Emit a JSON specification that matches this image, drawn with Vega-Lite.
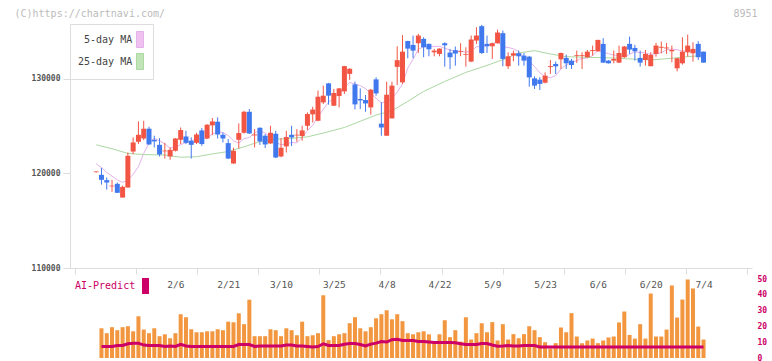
{
"$schema": "https://vega.github.io/schema/vega-lite/v6.json",
"padding": {"left": 14, "top": 8, "right": 0, "bottom": 0},
"background": "white",
"config": {"view": {"stroke": null}, "font": "DejaVu Sans Mono", "axis": {"grid": false}},
"bounds": "flush",
"spacing": 11,
"resolve": {"scale": {"color": "independent"}},
"datasets": {
"candles": [
{"i":0,"o":120120,"h":120200,"l":120080,"c":120200},
{"i":1,"o":119840,"h":120580,"l":118810,"c":119310},
{"i":2,"o":119280,"h":119550,"l":118280,"c":119030},
{"i":3,"o":118620,"h":119310,"l":118040,"c":118700},
{"i":4,"o":118890,"h":119030,"l":117940,"c":117940},
{"i":5,"o":117440,"h":118700,"l":117440,"c":118570},
{"i":6,"o":118500,"h":122200,"l":118500,"c":121850},
{"i":7,"o":122300,"h":123790,"l":122030,"c":123260},
{"i":8,"o":123330,"h":125480,"l":123090,"c":124070},
{"i":9,"o":123680,"h":125550,"l":123510,"c":124710},
{"i":10,"o":124710,"h":124920,"l":123000,"c":123050},
{"i":11,"o":123540,"h":123970,"l":122730,"c":123370},
{"i":12,"o":123010,"h":123720,"l":121780,"c":121990},
{"i":13,"o":122320,"h":123220,"l":121560,"c":122400},
{"i":14,"o":121780,"h":122730,"l":121430,"c":122480},
{"i":15,"o":122380,"h":123720,"l":122300,"c":123680},
{"i":16,"o":123540,"h":124840,"l":123090,"c":124570},
{"i":17,"o":123890,"h":124490,"l":123090,"c":123220},
{"i":18,"o":123440,"h":123790,"l":121560,"c":123010},
{"i":19,"o":123220,"h":124280,"l":123090,"c":124100},
{"i":20,"o":124530,"h":124780,"l":122900,"c":123090},
{"i":21,"o":123680,"h":125200,"l":123600,"c":125130},
{"i":22,"o":125060,"h":125840,"l":124040,"c":125480},
{"i":23,"o":125450,"h":125900,"l":123680,"c":124100},
{"i":24,"o":124070,"h":124310,"l":123260,"c":123680},
{"i":25,"o":123190,"h":123620,"l":121500,"c":121560},
{"i":26,"o":121040,"h":122700,"l":121000,"c":122380},
{"i":27,"o":123540,"h":125270,"l":122620,"c":124250},
{"i":28,"o":124280,"h":126600,"l":124200,"c":126500},
{"i":29,"o":126500,"h":126790,"l":124150,"c":124210},
{"i":30,"o":124000,"h":124670,"l":122730,"c":124100},
{"i":31,"o":124810,"h":124850,"l":123000,"c":123370},
{"i":32,"o":123970,"h":124150,"l":122670,"c":123050},
{"i":33,"o":123160,"h":125020,"l":123100,"c":124280},
{"i":34,"o":124180,"h":124490,"l":121600,"c":121670},
{"i":35,"o":121780,"h":123720,"l":121700,"c":122700},
{"i":36,"o":122840,"h":124490,"l":122200,"c":123830},
{"i":37,"o":124070,"h":125020,"l":122880,"c":123790},
{"i":38,"o":124000,"h":124670,"l":123330,"c":124080},
{"i":39,"o":123940,"h":125020,"l":123440,"c":124530},
{"i":40,"o":125020,"h":126430,"l":124570,"c":126260},
{"i":41,"o":126230,"h":127030,"l":125370,"c":126730},
{"i":42,"o":125550,"h":128730,"l":125500,"c":128090},
{"i":43,"o":127490,"h":129260,"l":127320,"c":128200},
{"i":44,"o":129500,"h":129550,"l":127250,"c":128200},
{"i":45,"o":127140,"h":128910,"l":127100,"c":128480},
{"i":46,"o":128170,"h":129000,"l":126960,"c":128970},
{"i":47,"o":128650,"h":131350,"l":128380,"c":131320},
{"i":48,"o":130500,"h":131100,"l":129870,"c":131040},
{"i":49,"o":129390,"h":129680,"l":126750,"c":127280},
{"i":50,"o":127850,"h":128970,"l":126790,"c":127700},
{"i":51,"o":127740,"h":128270,"l":126500,"c":127380},
{"i":52,"o":126960,"h":128900,"l":126190,"c":128830},
{"i":53,"o":129920,"h":130140,"l":128200,"c":128440},
{"i":54,"o":125240,"h":127500,"l":123970,"c":124840},
{"i":55,"o":123970,"h":129680,"l":123970,"c":128300},
{"i":56,"o":125800,"h":129680,"l":125800,"c":129260},
{"i":57,"o":131240,"h":133420,"l":129330,"c":131950},
{"i":58,"o":129610,"h":134600,"l":129450,"c":132850},
{"i":59,"o":133970,"h":134000,"l":132150,"c":133170},
{"i":60,"o":133560,"h":134550,"l":132150,"c":132960},
{"i":61,"o":133740,"h":134720,"l":132710,"c":134550},
{"i":62,"o":134200,"h":134370,"l":132260,"c":133310},
{"i":63,"o":133670,"h":133700,"l":132360,"c":133100},
{"i":64,"o":132780,"h":133140,"l":132360,"c":132960},
{"i":65,"o":132610,"h":133200,"l":132360,"c":133170},
{"i":66,"o":133740,"h":133840,"l":131270,"c":133520},
{"i":67,"o":132750,"h":133140,"l":130990,"c":132260},
{"i":68,"o":133000,"h":133390,"l":131370,"c":132650},
{"i":69,"o":132840,"h":133740,"l":132360,"c":132920},
{"i":70,"o":132500,"h":133310,"l":131270,"c":132580},
{"i":71,"o":131800,"h":134550,"l":131750,"c":134130},
{"i":72,"o":134020,"h":135430,"l":133670,"c":134550},
{"i":73,"o":135540,"h":135680,"l":132610,"c":132710},
{"i":74,"o":133670,"h":134550,"l":132710,"c":133420},
{"i":75,"o":133420,"h":133800,"l":132080,"c":133740},
{"i":76,"o":133740,"h":135180,"l":133700,"c":134870},
{"i":77,"o":134800,"h":135080,"l":131310,"c":132080},
{"i":78,"o":131310,"h":132780,"l":131020,"c":132360},
{"i":79,"o":132430,"h":132960,"l":131840,"c":132680},
{"i":80,"o":132680,"h":132960,"l":131370,"c":132360},
{"i":81,"o":132430,"h":132700,"l":131370,"c":131900},
{"i":82,"o":132320,"h":132400,"l":129150,"c":130130},
{"i":83,"o":130030,"h":130240,"l":128910,"c":129260},
{"i":84,"o":129890,"h":130140,"l":128800,"c":129440},
{"i":85,"o":129570,"h":130660,"l":129500,"c":130310},
{"i":86,"o":131220,"h":131970,"l":130490,"c":131320},
{"i":87,"o":131550,"h":131800,"l":130490,"c":131300},
{"i":88,"o":132040,"h":132750,"l":131020,"c":132710},
{"i":89,"o":132190,"h":132540,"l":131020,"c":131620},
{"i":90,"o":131900,"h":132080,"l":131020,"c":131440},
{"i":91,"o":132390,"h":132960,"l":131660,"c":132470},
{"i":92,"o":132390,"h":132780,"l":131020,"c":132470},
{"i":93,"o":132260,"h":133030,"l":132200,"c":132850},
{"i":94,"o":132910,"h":133490,"l":132430,"c":133010},
{"i":95,"o":132890,"h":134100,"l":132850,"c":134090},
{"i":96,"o":133670,"h":134270,"l":131650,"c":131690},
{"i":97,"o":131900,"h":131950,"l":131600,"c":131620},
{"i":98,"o":131900,"h":132960,"l":131620,"c":132080},
{"i":99,"o":131690,"h":133490,"l":131650,"c":132710},
{"i":100,"o":132260,"h":133450,"l":132200,"c":133390},
{"i":101,"o":133670,"h":134440,"l":132610,"c":133070},
{"i":102,"o":133240,"h":133560,"l":131900,"c":132890},
{"i":103,"o":132190,"h":132960,"l":131270,"c":131690},
{"i":104,"o":131970,"h":133030,"l":131370,"c":132610},
{"i":105,"o":131310,"h":132780,"l":131310,"c":132500},
{"i":106,"o":132610,"h":133770,"l":132320,"c":133490},
{"i":107,"o":133260,"h":133910,"l":132680,"c":133360},
{"i":108,"o":133190,"h":133770,"l":132610,"c":133290},
{"i":109,"o":132890,"h":133490,"l":131730,"c":133030},
{"i":110,"o":131090,"h":132200,"l":130770,"c":132150},
{"i":111,"o":131620,"h":134370,"l":131480,"c":132850},
{"i":112,"o":132780,"h":134650,"l":132320,"c":133490},
{"i":113,"o":132680,"h":133840,"l":131800,"c":133140},
{"i":114,"o":133670,"h":133950,"l":131970,"c":132260},
{"i":115,"o":132850,"h":132850,"l":131690,"c":131690}
],
"ma": [
{"i":0,"s":"5-day MA","v":121000},{"i":1,"s":"5-day MA","v":120600},{"i":2,"s":"5-day MA","v":120100},{"i":3,"s":"5-day MA","v":119700},
{"i":4,"s":"5-day MA","v":119300},{"i":5,"s":"5-day MA","v":119050},{"i":6,"s":"5-day MA","v":119250},{"i":7,"s":"5-day MA","v":119900},
{"i":8,"s":"5-day MA","v":120700},{"i":9,"s":"5-day MA","v":122100},{"i":10,"s":"5-day MA","v":123200},{"i":11,"s":"5-day MA","v":123690},
{"i":12,"s":"5-day MA","v":123440},{"i":13,"s":"5-day MA","v":123100},{"i":14,"s":"5-day MA","v":122660},{"i":15,"s":"5-day MA","v":122780},
{"i":16,"s":"5-day MA","v":123020},{"i":17,"s":"5-day MA","v":123270},{"i":18,"s":"5-day MA","v":123390},{"i":19,"s":"5-day MA","v":123720},
{"i":20,"s":"5-day MA","v":123600},{"i":21,"s":"5-day MA","v":123710},{"i":22,"s":"5-day MA","v":124160},{"i":23,"s":"5-day MA","v":124380},
{"i":24,"s":"5-day MA","v":124300},{"i":25,"s":"5-day MA","v":123990},{"i":26,"s":"5-day MA","v":123440},{"i":27,"s":"5-day MA","v":123190},
{"i":28,"s":"5-day MA","v":123670},{"i":29,"s":"5-day MA","v":123780},{"i":30,"s":"5-day MA","v":124290},{"i":31,"s":"5-day MA","v":124490},
{"i":32,"s":"5-day MA","v":124250},{"i":33,"s":"5-day MA","v":123800},{"i":34,"s":"5-day MA","v":123290},{"i":35,"s":"5-day MA","v":123010},
{"i":36,"s":"5-day MA","v":123110},{"i":37,"s":"5-day MA","v":123250},{"i":38,"s":"5-day MA","v":123210},{"i":39,"s":"5-day MA","v":123790},
{"i":40,"s":"5-day MA","v":124500},{"i":41,"s":"5-day MA","v":125080},{"i":42,"s":"5-day MA","v":125940},{"i":43,"s":"5-day MA","v":126760},
{"i":44,"s":"5-day MA","v":127500},{"i":45,"s":"5-day MA","v":127940},{"i":46,"s":"5-day MA","v":128390},{"i":47,"s":"5-day MA","v":129030},
{"i":48,"s":"5-day MA","v":129600},{"i":49,"s":"5-day MA","v":129420},{"i":50,"s":"5-day MA","v":129260},{"i":51,"s":"5-day MA","v":128940},
{"i":52,"s":"5-day MA","v":128450},{"i":53,"s":"5-day MA","v":127930},{"i":54,"s":"5-day MA","v":127440},{"i":55,"s":"5-day MA","v":127560},
{"i":56,"s":"5-day MA","v":127930},{"i":57,"s":"5-day MA","v":128560},{"i":58,"s":"5-day MA","v":129440},{"i":59,"s":"5-day MA","v":131110},
{"i":60,"s":"5-day MA","v":132040},{"i":61,"s":"5-day MA","v":133100},{"i":62,"s":"5-day MA","v":133370},{"i":63,"s":"5-day MA","v":133420},
{"i":64,"s":"5-day MA","v":133380},{"i":65,"s":"5-day MA","v":133420},{"i":66,"s":"5-day MA","v":133210},{"i":67,"s":"5-day MA","v":133000},
{"i":68,"s":"5-day MA","v":132910},{"i":69,"s":"5-day MA","v":132900},{"i":70,"s":"5-day MA","v":132790},{"i":71,"s":"5-day MA","v":132910},
{"i":72,"s":"5-day MA","v":133370},{"i":73,"s":"5-day MA","v":133380},{"i":74,"s":"5-day MA","v":133480},{"i":75,"s":"5-day MA","v":133710},
{"i":76,"s":"5-day MA","v":133860},{"i":77,"s":"5-day MA","v":133360},{"i":78,"s":"5-day MA","v":133290},{"i":79,"s":"5-day MA","v":133150},
{"i":80,"s":"5-day MA","v":132870},{"i":81,"s":"5-day MA","v":132280},{"i":82,"s":"5-day MA","v":131890},{"i":83,"s":"5-day MA","v":131270},
{"i":84,"s":"5-day MA","v":130620},{"i":85,"s":"5-day MA","v":130210},{"i":86,"s":"5-day MA","v":130090},{"i":87,"s":"5-day MA","v":130330},
{"i":88,"s":"5-day MA","v":131020},{"i":89,"s":"5-day MA","v":131450},{"i":90,"s":"5-day MA","v":131680},{"i":91,"s":"5-day MA","v":131910},
{"i":92,"s":"5-day MA","v":132140},{"i":93,"s":"5-day MA","v":132170},{"i":94,"s":"5-day MA","v":132440},{"i":95,"s":"5-day MA","v":132960},
{"i":96,"s":"5-day MA","v":132810},{"i":97,"s":"5-day MA","v":132640},{"i":98,"s":"5-day MA","v":132490},{"i":99,"s":"5-day MA","v":132440},
{"i":100,"s":"5-day MA","v":132300},{"i":101,"s":"5-day MA","v":132570},{"i":102,"s":"5-day MA","v":132830},{"i":103,"s":"5-day MA","v":132750},
{"i":104,"s":"5-day MA","v":132730},{"i":105,"s":"5-day MA","v":132550},{"i":106,"s":"5-day MA","v":132640},{"i":107,"s":"5-day MA","v":132730},
{"i":108,"s":"5-day MA","v":133040},{"i":109,"s":"5-day MA","v":133120},{"i":110,"s":"5-day MA","v":133050},{"i":111,"s":"5-day MA","v":132920},
{"i":112,"s":"5-day MA","v":132950},{"i":113,"s":"5-day MA","v":132930},{"i":114,"s":"5-day MA","v":132780},{"i":115,"s":"5-day MA","v":132690},
{"i":0,"s":"25-day MA","v":123010},{"i":3,"s":"25-day MA","v":122600},{"i":6,"s":"25-day MA","v":122100},{"i":9,"s":"25-day MA","v":121980},
{"i":13,"s":"25-day MA","v":121930},{"i":16,"s":"25-day MA","v":121700},{"i":19,"s":"25-day MA","v":121750},{"i":22,"s":"25-day MA","v":122050},
{"i":25,"s":"25-day MA","v":122300},{"i":28,"s":"25-day MA","v":122800},{"i":31,"s":"25-day MA","v":123350},{"i":34,"s":"25-day MA","v":123600},
{"i":37,"s":"25-day MA","v":123700},{"i":40,"s":"25-day MA","v":123850},{"i":43,"s":"25-day MA","v":124250},{"i":47,"s":"25-day MA","v":124840},
{"i":50,"s":"25-day MA","v":125500},{"i":53,"s":"25-day MA","v":126150},{"i":56,"s":"25-day MA","v":126610},{"i":59,"s":"25-day MA","v":127600},
{"i":62,"s":"25-day MA","v":128650},{"i":66,"s":"25-day MA","v":129700},{"i":70,"s":"25-day MA","v":130660},{"i":74,"s":"25-day MA","v":131400},
{"i":77,"s":"25-day MA","v":132000},{"i":80,"s":"25-day MA","v":132700},{"i":83,"s":"25-day MA","v":132960},{"i":86,"s":"25-day MA","v":132600},
{"i":89,"s":"25-day MA","v":132320},{"i":93,"s":"25-day MA","v":132250},{"i":97,"s":"25-day MA","v":132200},{"i":101,"s":"25-day MA","v":132080},
{"i":105,"s":"25-day MA","v":131970},{"i":109,"s":"25-day MA","v":132150},{"i":112,"s":"25-day MA","v":132320},{"i":115,"s":"25-day MA","v":132450}
],
"vol": [
{"i":1,"v":18.8,"ai":7.3},{"i":2,"v":15.7,"ai":7.3},{"i":3,"v":19.5,"ai":7.3},{"i":4,"v":17.6,"ai":7.9},{"i":5,"v":19.5,"ai":7.9},
{"i":6,"v":20.1,"ai":9.0},{"i":7,"v":16.9,"ai":9.4},{"i":8,"v":26.4,"ai":9.4},{"i":9,"v":18.0,"ai":8.2},{"i":10,"v":15.7,"ai":7.9},
{"i":11,"v":18.8,"ai":7.9},{"i":12,"v":13.8,"ai":7.9},{"i":13,"v":15.0,"ai":7.3},{"i":14,"v":12.5,"ai":7.6},{"i":15,"v":15.7,"ai":7.3},
{"i":16,"v":27.7,"ai":8.7},{"i":17,"v":25.8,"ai":7.6},{"i":18,"v":18.2,"ai":7.3},{"i":19,"v":16.3,"ai":7.3},{"i":20,"v":16.3,"ai":7.3},
{"i":21,"v":16.9,"ai":7.3},{"i":22,"v":16.9,"ai":7.3},{"i":23,"v":18.2,"ai":7.3},{"i":24,"v":17.6,"ai":7.3},{"i":25,"v":23.0,"ai":7.3},
{"i":26,"v":22.6,"ai":7.3},{"i":27,"v":28.3,"ai":8.5},{"i":28,"v":21.4,"ai":8.5},{"i":29,"v":36.9,"ai":8.5},{"i":30,"v":13.8,"ai":7.3},
{"i":31,"v":13.8,"ai":7.6},{"i":32,"v":13.8,"ai":7.6},{"i":33,"v":18.2,"ai":7.6},{"i":34,"v":17.6,"ai":7.6},{"i":35,"v":13.8,"ai":7.6},
{"i":36,"v":18.8,"ai":8.2},{"i":37,"v":17.6,"ai":8.2},{"i":38,"v":14.4,"ai":7.6},{"i":39,"v":23.0,"ai":7.6},{"i":40,"v":13.8,"ai":7.3},
{"i":41,"v":14.4,"ai":7.0},{"i":42,"v":15.7,"ai":7.3},{"i":43,"v":39.7,"ai":9.0},{"i":44,"v":11.3,"ai":7.9},{"i":45,"v":13.8,"ai":7.9},
{"i":46,"v":15.0,"ai":7.9},{"i":47,"v":15.7,"ai":8.7},{"i":48,"v":22.0,"ai":9.2},{"i":49,"v":25.8,"ai":9.2},{"i":50,"v":18.8,"ai":8.5},
{"i":51,"v":16.9,"ai":7.6},{"i":52,"v":19.5,"ai":8.8},{"i":53,"v":25.1,"ai":9.4},{"i":54,"v":27.7,"ai":10.4},{"i":55,"v":30.2,"ai":10.1},
{"i":56,"v":24.5,"ai":11.6},{"i":57,"v":27.7,"ai":11.9},{"i":58,"v":23.3,"ai":11.1},{"i":59,"v":15.7,"ai":11.1},{"i":60,"v":15.0,"ai":11.1},
{"i":61,"v":16.3,"ai":10.4},{"i":62,"v":16.9,"ai":10.4},{"i":63,"v":15.0,"ai":10.1},{"i":64,"v":10.4,"ai":9.8},{"i":65,"v":15.0,"ai":9.8},
{"i":66,"v":23.9,"ai":9.8},{"i":67,"v":13.2,"ai":9.8},{"i":68,"v":17.6,"ai":9.6},{"i":69,"v":10.4,"ai":9.0},{"i":70,"v":25.8,"ai":8.5},
{"i":71,"v":11.7,"ai":8.5},{"i":72,"v":15.7,"ai":8.5},{"i":73,"v":22.0,"ai":9.2},{"i":74,"v":16.3,"ai":9.2},{"i":75,"v":22.7,"ai":8.2},
{"i":76,"v":11.1,"ai":7.4},{"i":77,"v":21.4,"ai":7.6},{"i":78,"v":11.7,"ai":7.9},{"i":79,"v":15.1,"ai":7.6},{"i":80,"v":12.5,"ai":7.6},
{"i":81,"v":15.1,"ai":7.9},{"i":82,"v":20.1,"ai":7.9},{"i":83,"v":17.6,"ai":7.9},{"i":84,"v":13.2,"ai":7.0},{"i":85,"v":10.0,"ai":7.0},
{"i":86,"v":6.0,"ai":7.0},{"i":87,"v":9.4,"ai":7.0},{"i":88,"v":19.3,"ai":7.0},{"i":89,"v":16.3,"ai":7.0},{"i":90,"v":28.4,"ai":7.0},
{"i":91,"v":13.6,"ai":7.0},{"i":92,"v":9.4,"ai":7.0},{"i":93,"v":11.1,"ai":7.0},{"i":94,"v":12.3,"ai":7.0},{"i":95,"v":9.4,"ai":7.0},
{"i":96,"v":11.1,"ai":7.0},{"i":97,"v":13.0,"ai":7.0},{"i":98,"v":13.6,"ai":7.0},{"i":99,"v":22.5,"ai":7.0},{"i":100,"v":29.4,"ai":7.0},
{"i":101,"v":14.6,"ai":7.0},{"i":102,"v":12.3,"ai":7.0},{"i":103,"v":21.4,"ai":7.0},{"i":104,"v":12.3,"ai":7.0},{"i":105,"v":40.8,"ai":7.0},
{"i":106,"v":13.6,"ai":7.0},{"i":107,"v":13.6,"ai":7.0},{"i":108,"v":18.0,"ai":7.0},{"i":109,"v":45.9,"ai":7.0},{"i":110,"v":25.6,"ai":7.0},
{"i":111,"v":37.0,"ai":7.0},{"i":112,"v":49.7,"ai":7.0},{"i":113,"v":44.0,"ai":7.0},{"i":114,"v":19.9,"ai":7.0},{"i":115,"v":11.7,"ai":7.0}
]
},
"vconcat": [
{
"width": 682,
"height": 244,
"layer": [
{
"data": {"name": "ma"},
"mark": {"type": "line", "strokeWidth": 1},
"encoding": {
"x": {"field": "i", "type": "quantitative", "scale": {"domain": [-4.011, 123.23], "nice": false, "zero": false},
 "axis": {"values": [-4.011, 7.556, 19.12, 30.69, 42.26, 53.82, 65.39, 76.96, 88.53, 100.09, 111.66, 123.23], "labels": false, "domainColor": "#dddddd", "tickColor": "#dddddd", "tickSize": 6,
  "title": "8951", "titleX": 687, "titleY": -260, "titleAlign": "right", "titleBaseline": "top", "titleColor": "#bbbbbb", "titleFontSize": 10, "titleFontWeight": "normal", "titleFont": "DejaVu Sans Mono"}},
"y": {"field": "v", "type": "quantitative", "scale": {"domain": [110000, 135770], "nice": false, "zero": false},
 "axis": {"values": [110000, 120000, 130000], "format": "d", "domainColor": "#dddddd", "tickColor": "#dddddd", "tickSize": 7, "labelColor": "#555555", "labelFontSize": 8, "labelFontWeight": "bold", "labelPadding": 3, "labelFont": "DejaVu Sans Mono",
  "title": "(C)https://chartnavi.com/", "titleX": -56, "titleY": -16, "titleAngle": 0, "titleAlign": "left", "titleBaseline": "top", "titleColor": "#bbbbbb", "titleFontSize": 10, "titleFontWeight": "normal", "titleFont": "DejaVu Sans Mono"}},
"color": {"field": "s", "type": "nominal", "scale": {"domain": ["5-day MA", "25-day MA"], "range": ["#e4b2ea", "#acd8a2"]},
 "legend": {"orient": "top-left", "offset": 0, "padding": 7, "fillColor": "white", "strokeColor": "#dddddd", "title": null,
  "symbolType": "M-0.44,-1L0.44,-1L0.44,1L-0.44,1Z", "symbolSize": 256, "symbolOffset": 54.5, "labelAlign": "right", "labelOffset": -16.3,
  "labelFont": "DejaVu Sans Mono", "labelFontSize": 10, "labelColor": "#444444", "rowPadding": 1,
  "encode": {"symbols": {"update": {"fill": {"signal": "datum.value == '5-day MA' ? '#f0c0f0' : '#c0e4b8'"}, "fillOpacity": {"value": 1}, "stroke": {"value": "#555555"}, "strokeWidth": {"value": 1}, "opacity": {"value": 1}}}}}}
}
},
{
"data": {"name": "candles"},
"mark": {"type": "rule", "strokeWidth": 1},
"encoding": {
"x": {"field": "i", "type": "quantitative"},
"y": {"field": "l", "type": "quantitative"},
"y2": {"field": "h"},
"color": {"condition": {"test": "datum.c >= datum.o", "value": "#f25544"}, "value": "#4078ee"}
}
},
{
"data": {"name": "candles"},
"mark": {"type": "bar", "size": 5},
"encoding": {
"x": {"field": "i", "type": "quantitative"},
"y": {"field": "o", "type": "quantitative"},
"y2": {"field": "c"},
"color": {"condition": {"test": "datum.c >= datum.o", "value": "#f25544"}, "value": "#4078ee"}
}
}
]
},
{
"width": 682,
"height": 79,
"layer": [
{
"data": {"name": "vol"},
"mark": {"type": "bar", "size": 4, "color": "#f2963f"},
"encoding": {
"x": {"field": "i", "type": "quantitative", "scale": {"domain": [-4.011, 123.23], "nice": false, "zero": false},
 "axis": {"orient": "top", "values": [15, 25, 35, 45, 55, 65, 75, 85, 95, 105, 115],
  "labelExpr": "['2/6','2/21','3/10','3/25','4/8','4/22','5/9','5/23','6/6','6/20','7/4'][round((datum.value-15)/10)]",
  "domain": false, "ticks": false, "tickSize": 0, "labelPadding": -5, "labelBaseline": "middle", "labelColor": "#555555", "labelFontSize": 9.5, "labelFont": "DejaVu Sans Mono", "labelOverlap": false, "labelFlush": false, "title": null}},
"y": {"field": "v", "type": "quantitative", "scale": {"domain": [0, 50], "nice": false},
 "axis": {"orient": "right", "values": [0, 10, 20, 30, 40, 50], "domain": false, "ticks": false, "tickSize": 0, "labelPadding": 5, "labelColor": "#cc0066", "labelFontSize": 8, "labelFontWeight": "bold", "labelFont": "DejaVu Sans Mono", "labelOverlap": false, "labelFlush": false, "labelBound": false, "title": null}}
}
},
{
"data": {"name": "vol"},
"mark": {"type": "line", "strokeWidth": 3},
"encoding": {
"x": {"field": "i", "type": "quantitative"},
"y": {"field": "ai", "type": "quantitative",
 "axis": {"orient": "right", "values": [0, 10, 20, 30, 40, 50], "domain": false, "ticks": false, "tickSize": 0, "labelPadding": 5, "labelColor": "#cc0066", "labelFontSize": 8, "labelFontWeight": "bold", "labelFont": "DejaVu Sans Mono", "labelOverlap": false, "labelFlush": false, "labelBound": false, "title": null}},
"color": {"datum": "AI-Predict", "scale": {"range": ["#cc0066"]},
 "legend": {"orient": "none", "legendX": 5, "legendY": -1, "padding": 0, "title": null,
  "symbolType": "M-0.44,-1L0.44,-1L0.44,1L-0.44,1Z", "symbolSize": 256, "symbolOffset": 62.5, "labelAlign": "right", "labelOffset": -18.3,
  "labelColor": "#cc0066", "labelFontSize": 10, "labelFont": "DejaVu Sans Mono",
  "encode": {"symbols": {"update": {"fill": {"value": "#cc0066"}, "fillOpacity": {"value": 1}, "stroke": {"value": "#cc0066"}, "strokeWidth": {"value": 0}, "opacity": {"value": 1}}}}}}
}
}
]
}
]
}
